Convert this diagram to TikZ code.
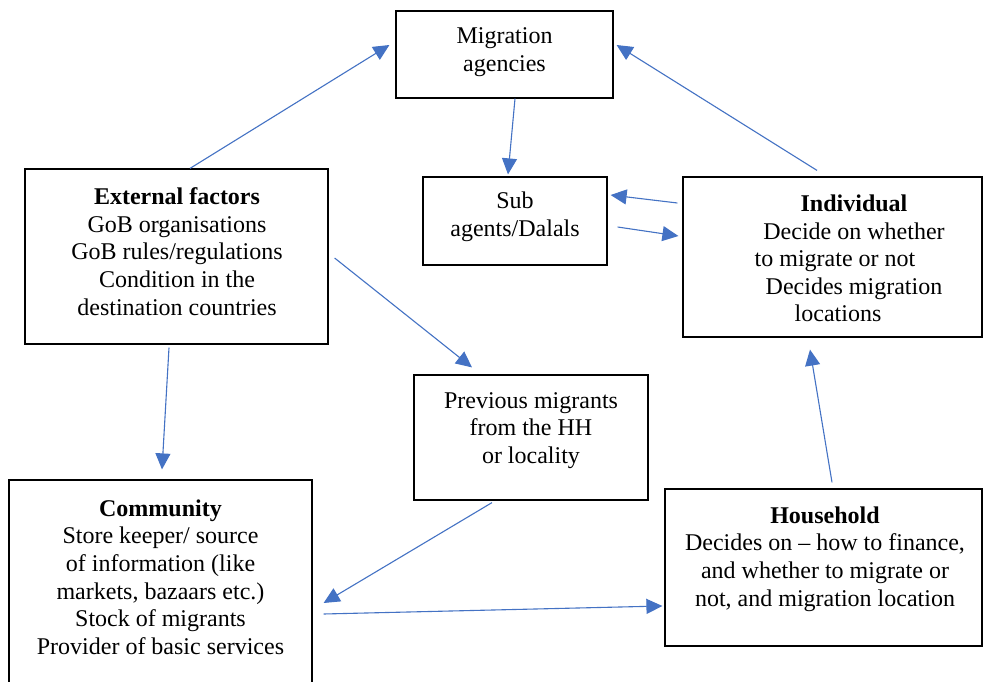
\documentclass[tikz,border=0pt]{standalone}
\usepackage{fontspec}
\setmainfont{Liberation Serif}
\usetikzlibrary{arrows.meta}
\definecolor{arrblue}{HTML}{4472C4}
\tikzset{
  box/.style={draw=black, line width=1.2pt, rectangle, inner sep=0pt},
  txt/.style={align=center, inner sep=0pt, font=\fontsize{24}{27.6}\selectfont},
  arr/.style={draw=arrblue, line width=1.1pt, -{Triangle[length=16pt,width=15pt]}}
}
\begin{document}
\begin{tikzpicture}[x=1pt,y=-1pt]
\useasboundingbox (0,0) rectangle (983,682);
\clip (0,0) rectangle (983,682);
\fill[white] (0,0) rectangle (983,682);
% boxes
\node[box, minimum width=217pt, minimum height=87pt] (mig) at (504.5,54.5) {};
\node[box, minimum width=184pt, minimum height=88pt] (sub) at (515,221) {};
\node[box, minimum width=299pt, minimum height=160pt] (ind) at (832.5,257) {};
\node[box, minimum width=303pt, minimum height=175pt] (ext) at (176.5,256.5) {};
\node[box, minimum width=234pt, minimum height=125pt] (prev) at (531,437.5) {};
\node[box, minimum width=303pt, minimum height=240pt] (comm) at (160.5,600) {};
\node[box, minimum width=317pt, minimum height=157pt] (hh) at (823.5,567.5) {};
% texts
\node[txt] (migt) at (504.5,52) {Migration\\agencies};
\node[txt] (subt) at (515,217) {Sub\\agents/Dalals};
\node[txt] (indt) at (854,258.5) {\textbf{Individual}\\Decide on whether\\to migrate or not\hspace{38pt}\mbox{}\\Decides migration\\locations\hspace{32pt}\mbox{}};
\node[txt] (extt) at (177,251.5) {\textbf{External factors}\\GoB organisations\\GoB rules/regulations\\Condition in the\\destination countries};
\node[txt] (prevt) at (531,430.5) {Previous migrants\\from the HH\\or locality};
\node[txt] (commt) at (160.5,577) {\textbf{Community}\\Store keeper/ source\\of information (like\\markets, bazaars etc.)\\Stock of migrants\\Provider of basic services};
\node[txt] (hht) at (825,559) {\textbf{Household}\\Decides on -- how to finance,\\and whether to migrate or\\not, and migration location};
% connectors
\draw[arr] ([xshift=13.5pt]ext.north) -- ([xshift=-6pt,yshift=9.5pt]mig.west);
\draw[arr] ([xshift=-15.5pt,yshift=6pt]ind.north) -- ([xshift=3pt,yshift=9.5pt]mig.east);
\draw[arr] ([xshift=10.5pt]mig.south) -- ([xshift=-7pt,yshift=2pt]sub.north);
\draw[arr] ([xshift=-5pt,yshift=54pt]ind.west) -- ([xshift=3pt,yshift=26pt]sub.east);
\draw[arr] ([xshift=10pt,yshift=-6pt]sub.east) -- ([xshift=-4pt,yshift=21pt]ind.west);
\draw[arr] ([xshift=6pt,yshift=-1.5pt]ext.east) -- ([xshift=-59pt,yshift=7pt]prev.north);
\draw[arr] ([xshift=-7.5pt,yshift=-3pt]ext.south) -- ([xshift=1.5pt,yshift=10pt]comm.north);
\draw[arr] ([xshift=-39pt,yshift=-2pt]prev.south) -- ([xshift=11pt,yshift=-3pt]comm.east);
\draw[arr] ([xshift=11pt,yshift=-14pt]comm.east) -- ([xshift=-2pt,yshift=-38.5pt]hh.west);
\draw[arr] ([xshift=8.5pt,yshift=6pt]hh.north) -- ([xshift=-22.5pt,yshift=-12pt]ind.south);
\end{tikzpicture}
\end{document}
